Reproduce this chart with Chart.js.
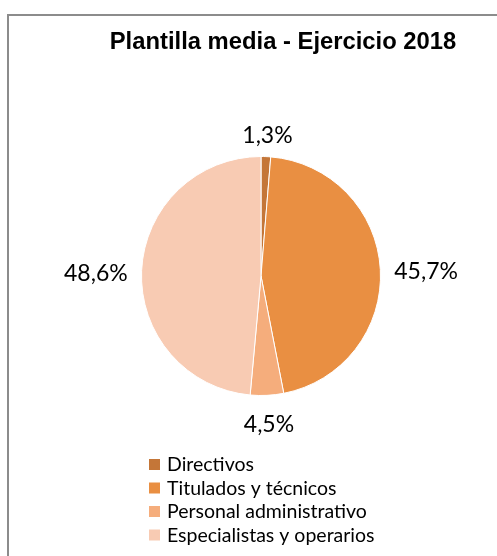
<!DOCTYPE html>
<html>
<head>
<meta charset="utf-8">
<script src="https://cdn.jsdelivr.net/npm/chart.js@4/dist/chart.umd.min.js"></script>
<style>
  html, body { margin: 0; padding: 0; background: #fff; overflow: hidden; }
  #frame { position: absolute; left: 7px; top: 14px; width: 600px; height: 700px; border: 2px solid #8c8c8c; box-sizing: border-box; }
  #c { position: absolute; left: 0; top: 0; }
</style>
</head>
<body>
<div id="frame"></div>
<canvas id="c" width="497" height="556"></canvas>
<script>
const titleText = "Plantilla media - Ejercicio 2018";
const categories = ["Directivos", "Titulados y técnicos", "Personal administrativo", "Especialistas y operarios"];
const values = [1.3, 45.7, 4.5, 48.6];
const valueLabels = ["1,3%", "45,7%", "4,5%", "48,6%"];
const colors = ["#C47638", "#E98F42", "#F5AD7C", "#F8CBB3"];

const labelFont = "23px Lato, 'Open Sans', sans-serif";
const legendFont = "19.5px Lato, 'Open Sans', sans-serif";

const overlay = {
  id: 'overlay',
  afterDraw(chart) {
    const ctx = chart.ctx;
    ctx.save();
    // Title
    ctx.fillStyle = '#000';
    ctx.font = "bold 23.8px 'Liberation Sans', Arial, sans-serif";
    ctx.textAlign = 'center';
    ctx.textBaseline = 'middle';
    ctx.fillText(titleText, 283, 42);

    // Data labels
    const meta = chart.getDatasetMeta(0);
    ctx.font = labelFont;
    meta.data.forEach((arc, i) => {
      const p = arc.getProps(['x', 'y', 'startAngle', 'endAngle', 'outerRadius'], true);
      const mid = (p.startAngle + p.endAngle) / 2;
      const cx = Math.cos(mid), cy = Math.sin(mid);
      const d = p.outerRadius + 14;
      const w = ctx.measureText(valueLabels[i]).width;
      const hh = 11;
      const x = p.x + d * cx + (w / 2) * cx;
      const y = p.y + d * cy + hh * cy + 4;
      ctx.fillStyle = '#000';
      ctx.textAlign = 'center';
      ctx.textBaseline = 'middle';
      ctx.fillText(valueLabels[i], x, y);
    });

    // Legend
    ctx.font = legendFont;
    ctx.textAlign = 'left';
    ctx.textBaseline = 'middle';
    categories.forEach((c, i) => {
      const yc = 464 + i * 23.5;
      ctx.fillStyle = colors[i];
      ctx.fillRect(149, yc - 5, 11, 11);
      ctx.fillStyle = '#000';
      ctx.fillText(c, 167, yc + 1);
    });
    ctx.restore();
  }
};

new Chart(document.getElementById('c'), {
  type: 'pie',
  data: {
    labels: categories,
    datasets: [{
      data: values,
      backgroundColor: colors,
      borderColor: '#ffffff',
      borderWidth: 1
    }]
  },
  options: {
    responsive: false,
    animation: false,
    layout: { padding: { left: 141, right: 116, top: 156, bottom: 160 } },
    plugins: {
      legend: { display: false },
      title: { display: false },
      tooltip: { enabled: false }
    }
  },
  plugins: [overlay]
});
</script>
</body>
</html>
